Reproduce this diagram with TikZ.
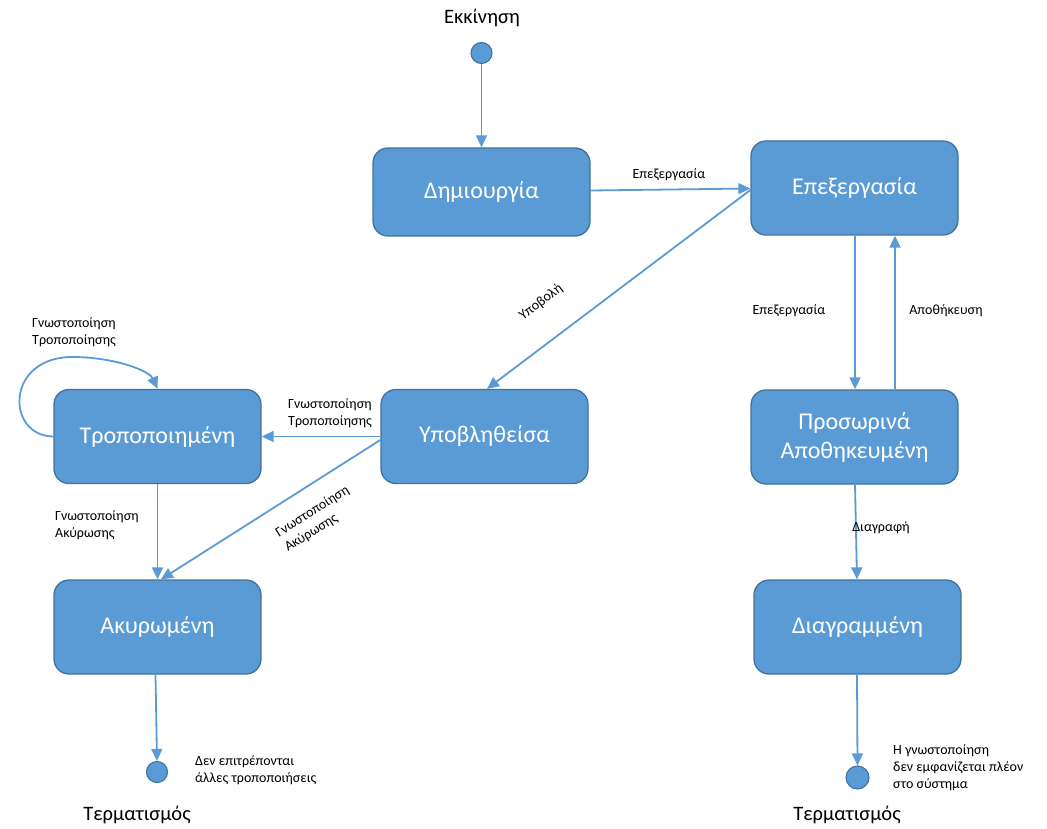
\documentclass[tikz,border=0pt]{standalone}
\usepackage{fontspec}
\setmainfont{Carlito}
\usetikzlibrary{arrows.meta}
\definecolor{boxfill}{HTML}{5B9BD5}
\definecolor{boxline}{HTML}{41719C}
\tikzset{
  state/.style={draw=boxline, fill=boxfill, line width=1.3pt, rounded corners=15pt,
    minimum width=207pt, minimum height=94pt, text=white, font=\fontsize{24}{29}\selectfont, align=center, inner sep=0pt},
  pseudo/.style={circle, draw=boxline, fill=boxfill, line width=1.1pt, minimum size=21pt, inner sep=0pt},
  arr/.style={draw=boxfill, line width=1.8pt, -{Triangle[length=12pt,width=11pt]}},
  lbl/.style={font=\fontsize{14}{17}\selectfont, text=black, inner sep=0pt},
  big/.style={font=\fontsize{20.5}{24}\selectfont, text=black, inner sep=0pt}
}
\begin{document}
\begin{tikzpicture}[x=1pt,y=-1pt]
\useasboundingbox (0,0) rectangle (1047,829);
% states
\node[state, minimum width=217pt, minimum height=88pt] (dem) at (481.5,192) {Δημιουργία};
\node[state] (epe) at (854.5,188) {Επεξεργασία};
\node[state] (trop) at (157.5,436.5) {Τροποποιημένη};
\node[state] (ypo) at (484.5,436.5) {Υποβληθείσα};
\node[state] (pros) at (854.5,437) {Προσωρινά\\Αποθηκευμένη};
\node[state] (akyr) at (157.5,627) {Ακυρωμένη};
\node[state] (diag) at (857.5,627) {Διαγραμμένη};
% pseudo states
\node[pseudo] (start) at (481.5,53) {};
\node[pseudo] (end1) at (157,772) {};
\node[pseudo, minimum size=23pt] (end2) at (857.5,777.5) {};
% titles
\node[big] (tstart) at (482,18) {Εκκίνηση};
\node[big] (tend1) at (137,815) {Τερματισμός};
\node[big] (tend2) at (847,815) {Τερματισμός};
% connectors
\draw[arr] (start) -- (dem.north);
\draw[arr] (dem.east |- 0,190.5) -- (epe.west |- 0,188.5);
\draw[arr] (epe.west |- 0,190) -- (ypo.north -| 487,0);
\draw[arr] (epe.south -| 855,0) -- (pros.north -| 855,0);
\draw[arr] (pros.north -| 895,0) -- (epe.south -| 895,0);
\draw[arr] (pros.south -| 855,0) -- (diag.north -| 857,0);
\draw[arr] (ypo.west) -- (trop.east);
\draw[arr] (ypo.west |- 0,440) -- (akyr.north -| 161,0);
\draw[arr] (trop.south) -- (akyr.north -| 157.5,0);
\draw[arr] (trop.west) .. controls (5,436) and (5,355) .. (75,357)
  .. controls (120,358) and (150,372) .. (trop.north);
\draw[arr] (akyr.south -| 155.5,0) -- (end1.north);
\draw[arr] (diag.south -| 857,0) -- (end2.north);
% labels
\node[lbl] (l1) at (669,174.5) {Επεξεργασία};
\node[lbl, rotate=37] (l2) at (541,302) {Υποβολή};
\node[lbl] (l3) at (789,311) {Επεξεργασία};
\node[lbl] (l4) at (946,311) {Αποθήκευση};
\node[lbl, align=left, anchor=west] (l5) at (288,413) {Γνωστοποίηση\\Τροποποίησης};
\node[lbl, align=left, anchor=west] (l6) at (32,332) {Γνωστοποίηση\\Τροποποίησης};
\node[lbl, align=left, anchor=west] (l7) at (55,525.5) {Γνωστοποίηση\\Ακύρωσης};
\node[lbl, align=left, rotate=32] (l8) at (317,519) {Γνωστοποίηση\\Ακύρωσης};
\node[lbl] (l9) at (881,527.5) {Διαγραφή};
\node[lbl, align=left, anchor=west] (l10) at (195,770) {Δεν επιτρέπονται\\άλλες τροποποιήσεις};
\node[lbl, align=left, anchor=west] (l11) at (893,768) {Η γνωστοποίηση\\δεν εμφανίζεται πλέον\\στο σύστημα};
\end{tikzpicture}
\end{document}
